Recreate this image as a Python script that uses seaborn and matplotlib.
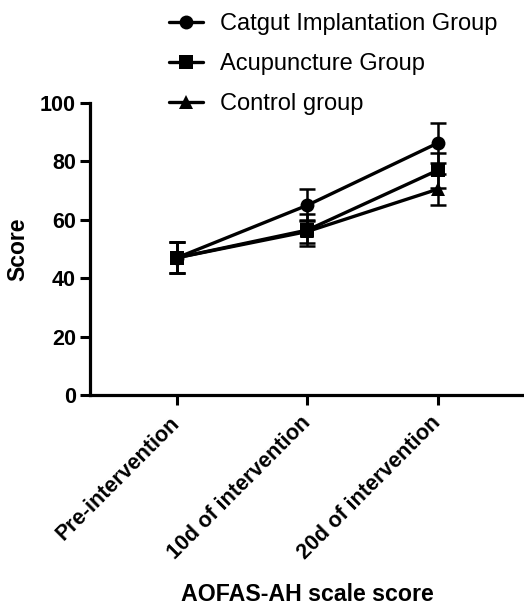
import matplotlib
matplotlib.use("Agg")
import matplotlib.pyplot as plt
import seaborn as sns
import pandas as pd
import numpy as np

categories = ["Pre-intervention", "10d of intervention", "20d of intervention"]
groups = ["Catgut Implantation Group", "Acupuncture Group", "Control group"]
catgut_mean = [47.0, 65.0, 86.3]
catgut_sd = [5.3, 5.5, 6.8]
acup_mean = [47.0, 56.5, 77.0]
acup_sd = [5.3, 5.5, 6.0]
control_mean = [47.0, 56.0, 70.5]
control_sd = [5.3, 4.0, 5.3]

means = [catgut_mean, acup_mean, control_mean]
sds = [catgut_sd, acup_sd, control_sd]
markers = ["o", "s", "^"]

rows = []
for g, m, s in zip(groups, means, sds):
    for i, c in enumerate(categories):
        rows.append({"group": g, "time": c, "pos": i, "score": m[i], "sd": s[i]})
df = pd.DataFrame(rows)

sns.set_theme(style="ticks")
plt.rcParams["font.family"] = ["Liberation Sans", "DejaVu Sans"]
plt.rcParams["text.color"] = "black"
plt.rcParams["axes.labelcolor"] = "black"
plt.rcParams["xtick.color"] = "black"
plt.rcParams["ytick.color"] = "black"
plt.rcParams["xtick.labelcolor"] = "black"
plt.rcParams["ytick.labelcolor"] = "black"

fig = plt.figure(figsize=(5.24, 6.07), dpi=100)
ax = fig.add_axes([90/524, 1-395/607, 1-90/524, (395-103)/607])

for g, mk in zip(groups, markers):
    sub = df[df["group"] == g]
    ax.errorbar(sub["pos"], sub["score"], yerr=sub["sd"], fmt="none",
                ecolor="black", elinewidth=1.8, capsize=5.5, capthick=1.8, zorder=2)

sns.lineplot(data=df, x="pos", y="score", hue="group", style="group",
             hue_order=groups, style_order=groups,
             palette=["black"]*3, markers=markers, dashes=False,
             markersize=10, linewidth=2.4, markeredgewidth=0,
             ax=ax, legend=True, zorder=3)

ax.set_xlim(-0.667, 2.66)
ax.set_ylim(0, 100)
ax.set_yticks([0, 20, 40, 60, 80, 100])
ax.set_xticks([0, 1, 2])
ax.set_xticklabels(categories, rotation=45, ha="right", va="center",
                   rotation_mode="anchor", fontsize=15.5, fontweight="bold")
for lbl in ax.get_yticklabels():
    lbl.set_fontsize(15.5)
    lbl.set_fontweight("bold")
ax.tick_params(axis="both", width=2.2, length=7, color="black", labelcolor="black", pad=3)
ax.tick_params(axis="x", pad=11)
for sp in ["left", "bottom"]:
    ax.spines[sp].set_linewidth(2.3)
    ax.spines[sp].set_color("black")
sns.despine(ax=ax)

ax.set_xlabel("AOFAS-AH scale score", fontsize=16.7, fontweight="bold", labelpad=14, color="black")
ax.set_ylabel("Score", fontsize=16.5, fontweight="bold", labelpad=8, color="black")

handles, labels = ax.get_legend_handles_labels()
ax.get_legend().remove()
fig.legend(handles, labels, loc="upper left", bbox_to_anchor=(169/524, 1-13/607),
           frameon=False, fontsize=17, handlelength=1.45, handletextpad=0.72,
           labelspacing=0.76, borderpad=0, borderaxespad=0, labelcolor="black")

fig.savefig("out.png", dpi=100)
